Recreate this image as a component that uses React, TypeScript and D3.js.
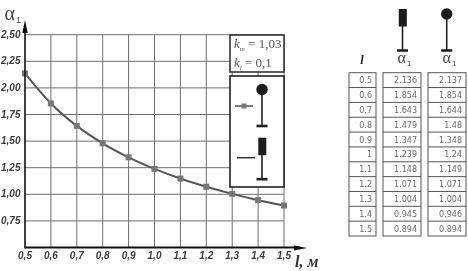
import React from "react";
import * as d3 from "d3";

const lengths = [0.5, 0.6, 0.7, 0.8, 0.9, 1.0, 1.1, 1.2, 1.3, 1.4, 1.5];
const seriesBar = [2.136, 1.854, 1.643, 1.479, 1.347, 1.239, 1.148, 1.071, 1.004, 0.945, 0.894];
const rowLabels = ["0.5", "0.6", "0.7", "0.8", "0.9", "1", "1.1", "1.2", "1.3", "1.4", "1.5"];
const barLabels = ["2.136", "1.854", "1.643", "1.479", "1.347", "1.239", "1.148", "1.071", "1.004", "0.945", "0.894"];
const ballLabels = ["2.137", "1.854", "1.644", "1.48", "1.348", "1.24", "1.149", "1.071", "1.004", "0.946", "0.894"];
const yTicks = [0.75, 1.0, 1.25, 1.5, 1.75, 2.0, 2.25, 2.5];

const x = d3.scaleLinear().domain([0.5, 1.5]).range([25, 284]);
const y = d3.scaleLinear().domain([0.5, 2.5]).range([247.5, 34.7]);
const rowY = d3.scaleLinear().domain([0, 11]).range([72.7, 236]);
const comma = (v: number, digits: number) => v.toFixed(digits).replace(".", ",");
const line = d3.line<number>().x((_, i) => x(lengths[i])).y((d) => y(d)).curve(d3.curveMonotoneX);

const GRID = "#6e6e6e";
const DARK = "#333";

function Support({ cx, top, ball }: { cx: number; top: number; ball: boolean }) {
  const end = top + (ball ? 42 : 41.5);
  return (
    <g>
      {ball ? (
        <circle cx={cx} cy={top + 5.5} r={5.7} fill="#1c1c1c" />
      ) : (
        <rect x={cx - 3.7} y={top} width={8} height={17.5} fill="#1c1c1c" />
      )}
      <line x1={cx} x2={cx} y1={top + (ball ? 8 : 14)} y2={end} stroke="#222" strokeWidth={1.6} />
      <line x1={cx - 5.5} x2={cx + 5.5} y1={end} y2={end} stroke="#222" strokeWidth={2.6} />
    </g>
  );
}

function Alpha({ px, py, size, subSize, subDy }: { px: number; py: number; size: number; subSize: number; subDy: number }) {
  return (
    <text x={px} y={py} fontFamily="'Liberation Serif', serif" fontSize={size} fill="#444">
      α<tspan fontFamily="'Liberation Sans', sans-serif" fontSize={subSize} dx={1} dy={subDy}>1</tspan>
    </text>
  );
}

function Column({ left, right, labels }: { left: number; right: number; labels: string[] }) {
  return (
    <g>
      <rect x={left} y={rowY(0)} width={right - left} height={rowY(11) - rowY(0)} fill="#fff" stroke="#555" strokeWidth={1} />
      {labels.map((t, i) => (
        <g key={t + i}>
          {i > 0 && <line x1={left} x2={right} y1={rowY(i)} y2={rowY(i)} stroke="#555" />}
          <text x={right - 4} y={rowY(i) + 10.5} textAnchor="end" fontFamily="'DejaVu Sans', sans-serif" fontSize={8} fill="#6a6a6a">
            {t}
          </text>
        </g>
      ))}
    </g>
  );
}

export default function App() {
  return (
    <svg width={468} height={271} style={{ position: "absolute", left: 0, top: 0, background: "#fff" }}>
      <defs>
        <filter id="soft" x="-5%" y="-5%" width="110%" height="110%">
          <feGaussianBlur stdDeviation="0.35" />
        </filter>
      </defs>
      <g filter="url(#soft)">
        {lengths.slice(1).map((l) => (
          <line key={l} x1={x(l)} x2={x(l)} y1={y(2.5)} y2={y(0.5)} stroke={GRID} strokeWidth={1} />
        ))}
        {yTicks.map((v) => (
          <line key={v} x1={x(0.5)} x2={x(1.5)} y1={y(v)} y2={y(v)} stroke={GRID} strokeWidth={1} />
        ))}

        <path d={line(seriesBar) ?? ""} fill="none" stroke="#555" strokeWidth={2} />
        {seriesBar.map((v, i) => (
          <rect key={i} x={x(lengths[i]) - 3} y={y(v) - 3} width={6} height={6} fill="#777" />
        ))}

        <line x1={x(0.5)} x2={x(0.5)} y1={y(0.5) + 1} y2={28} stroke="#111" strokeWidth={1.6} />
        <path d="M25,20 L22.3,33 L27.7,33 Z" fill="#111" />
        <line x1={x(0.5)} x2={300} y1={y(0.5)} y2={y(0.5)} stroke="#111" strokeWidth={2} />
        <path d="M307,248 L294,245.5 L294,250.5 Z" fill="#111" />

        {yTicks.map((v) => (
          <text key={v} x={20.5} y={y(v) + 3} textAnchor="end" fontFamily="'Liberation Sans', sans-serif" fontSize={10} fontWeight={700} fontStyle="italic" fill="#3a3a3a">
            {comma(v, 2)}
          </text>
        ))}
        {lengths.map((l) => (
          <text key={l} x={x(l)} y={259} textAnchor="middle" fontFamily="'Liberation Sans', sans-serif" fontSize={10} fontWeight={700} fontStyle="italic" fill="#3a3a3a">
            {comma(l, 1)}
          </text>
        ))}
        <Alpha px={4.5} py={20} size={20} subSize={9} subDy={3} />
        <text x={295} y={267} fontFamily="'Liberation Serif', serif" fontSize={16} fontWeight={700} fontStyle="italic" fill="#333">
          l, м
        </text>

        <rect x={230} y={35} width={54} height={37} fill="#fff" stroke={DARK} strokeWidth={1.6} />
        <text x={234} y={48} fontFamily="'Liberation Serif', serif" fontSize={13} fill="#555">
          <tspan fontStyle="italic">k</tspan>
          <tspan fontSize={7} dy={3} fontStyle="italic">m</tspan>
          <tspan dy={-3}> = 1,03</tspan>
        </text>
        <text x={234} y={67} fontFamily="'Liberation Serif', serif" fontSize={13} fill="#555">
          <tspan fontStyle="italic">k</tspan>
          <tspan fontSize={7} dy={3} fontStyle="italic">l</tspan>
          <tspan dy={-3}> = 0,1</tspan>
        </text>

        <rect x={230} y={76} width={54} height={111} fill="#fff" stroke="#222" strokeWidth={1.6} />
        <line x1={235} x2={253} y1={106} y2={106} stroke="#555" strokeWidth={1.5} />
        <rect x={241.5} y={103.5} width={5} height={5} fill="#777" />
        <Support cx={262} top={84} ball />
        <line x1={237} x2={255} y1={157.7} y2={157.7} stroke="#333" strokeWidth={1.5} />
        <Support cx={262} top={137.7} ball={false} />

        <text x={362} y={63.5} textAnchor="middle" fontFamily="'Liberation Serif', serif" fontSize={12.5} fontWeight={700} fontStyle="italic" fill="#222">
          l
        </text>
        <Alpha px={397.5} py={63} size={16} subSize={8} subDy={3} />
        <Alpha px={442.5} py={63} size={16} subSize={8} subDy={3} />
        <Support cx={402.5} top={9} ball={false} />
        <Support cx={446.7} top={8.5} ball />

        <Column left={349} right={376} labels={rowLabels} />
        <Column left={383} right={421} labels={barLabels} />
        <Column left={428} right={466} labels={ballLabels} />
      </g>
    </svg>
  );
}
